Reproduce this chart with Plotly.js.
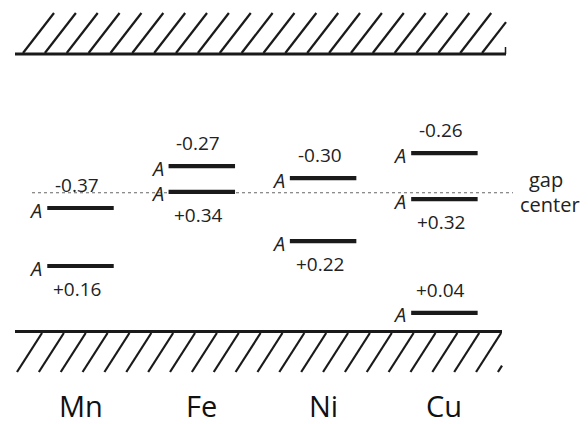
<!DOCTYPE html>
<html><head><meta charset="utf-8">
<script src="https://cdn.plot.ly/plotly-3.0.1.min.js"></script>
<style>html,body{margin:0;padding:0;background:#fff;}</style>
</head><body><div id="chart" style="width:588px;height:424px;"></div>
<script>
// ---- data (energies as fraction of the gap, measured from the valence-band top) ----
const elements = ['Mn', 'Fe', 'Ni', 'Cu'];
const levelElement = ['Mn', 'Mn', 'Fe', 'Fe', 'Ni', 'Ni', 'Cu', 'Cu', 'Cu'];
const levelEnergy = [0.445, 0.236, 0.596, 0.503, 0.553, 0.326, 0.643, 0.477, 0.067];
const levelLabel = ['-0.37', '+0.16', '-0.27', '+0.34', '-0.30', '+0.22', '-0.26', '+0.32', '+0.04'];
const levelSymbol = 'A';
const gapCenter = 0.5;
const vbTop = 0;
const cbBottom = 1;

// ---- geometry / style ----
const W = 588, H = 424;
const halfW = 0.274;
const ink = '#1a1a1a';
const px = x => x / W;            // pixel -> paper x
const py = y => 1 - y / H;        // pixel -> paper y

// level segments
const lx = [], ly = [];
levelEnergy.forEach((e, k) => {
  const i = elements.indexOf(levelElement[k]);
  lx.push(i - halfW, i + halfW, null);
  ly.push(e, e, null);
});
const traces = [{
  type: 'scatter', mode: 'lines', x: lx, y: ly,
  line: {color: ink, width: 4.2}, hoverinfo: 'skip', showlegend: false
}];

// hatch generator (decoration), in pixel space -> paper
function hatch(yBase, yTip, x0, step, n, dx, xmin, xmax, shapes) {
  for (let k = 0; k < n; k++) {
    let xa = x0 + step * k, ya = yBase, xb = xa + dx, yb = yTip;
    if (xb > xmax) { const t = (xmax - xa) / dx; xb = xmax; yb = yBase + t * (yTip - yBase); }
    if (xa < xmin) { const t = (xmin - xa) / dx; xa = xmin; ya = yBase + t * (yTip - yBase); }
    shapes.push({type: 'line', xref: 'paper', yref: 'paper',
      x0: px(xa), y0: py(ya), x1: px(xb), y1: py(yb),
      line: {color: ink, width: 2.2}});
  }
}
const shapes = [];
hatch(53, 13, 23, 21.86, 22, 31, 15, 506, shapes);     // conduction band
hatch(372, 333, 17, 21.86, 23, 25, 15, 502, shapes);   // valence band
// band edges
shapes.push({type: 'line', xref: 'paper', yref: 'y', x0: px(15), x1: px(506), y0: cbBottom, y1: cbBottom, line: {color: ink, width: 3.2}});
shapes.push({type: 'line', xref: 'paper', yref: 'paper', x0: px(505.5), x1: px(505.5), y0: py(47), y1: py(54), line: {color: ink, width: 1.5}});
shapes.push({type: 'line', xref: 'paper', yref: 'y', x0: px(15), x1: px(502), y0: vbTop, y1: vbTop, line: {color: ink, width: 3.2}});
// gap center
shapes.push({type: 'line', xref: 'paper', yref: 'y', x0: px(32), x1: px(513), y0: gapCenter, y1: gapCenter,
  line: {color: '#666', width: 1, dash: '3px,3px'}, layer: 'below'});

// annotations
const numFont = {family: 'Open Sans, sans-serif', size: 19, color: '#222'};
const annotations = [];
levelEnergy.forEach((e, k) => {
  const i = elements.indexOf(levelElement[k]);
  const above = levelLabel[k].startsWith('-') || e < 0.15;
  annotations.push({x: i, y: e, xref: 'x', yref: 'y', text: levelLabel[k], showarrow: false,
    xanchor: 'center', yanchor: 'middle', xshift: -3.5, yshift: above ? 23 : -23, font: numFont});
  annotations.push({x: i - halfW, y: e, xref: 'x', yref: 'y', text: '<i>' + levelSymbol + '</i>', showarrow: false,
    xanchor: 'right', yanchor: 'middle', xshift: -3, yshift: -2,
    font: {family: 'Open Sans, sans-serif', size: 20, color: '#222'}});
});
elements.forEach((el, i) => {
  annotations.push({x: i, y: py(405), xref: 'x', yref: 'paper', text: el, showarrow: false,
    xanchor: 'center', yanchor: 'middle', font: {family: 'Open Sans, sans-serif', size: 29, color: '#111'}});
});
annotations.push({x: px(546), y: py(179), xref: 'paper', yref: 'paper', text: 'gap', showarrow: false,
  xanchor: 'center', yanchor: 'middle', font: {family: 'Open Sans, sans-serif', size: 20, color: '#222'}});
annotations.push({x: px(550), y: py(205), xref: 'paper', yref: 'paper', text: 'center', showarrow: false,
  xanchor: 'center', yanchor: 'middle', font: {family: 'Open Sans, sans-serif', size: 20, color: '#222'}});

const layout = {
  width: W, height: H,
  margin: {l: 0, r: 0, t: 0, b: 0},
  paper_bgcolor: '#fff', plot_bgcolor: '#fff',
  xaxis: {range: [-0.6636, 4.1838], visible: false, fixedrange: true},
  yaxis: {range: [-0.3333, 1.1946], visible: false, fixedrange: true},
  showlegend: false,
  shapes: shapes,
  annotations: annotations
};
Plotly.newPlot('chart', traces, layout, {displayModeBar: false, staticPlot: true});
</script>
</body></html>
